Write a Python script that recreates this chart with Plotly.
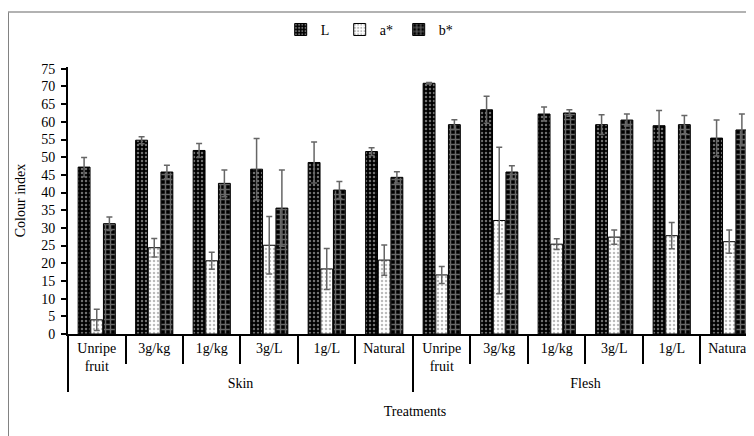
import plotly.graph_objects as go

parts = ["Skin"] * 6 + ["Flesh"] * 6
treatments = ["Unripe<br>fruit", "3g/kg", "1g/kg", "3g/L", "1g/L", "Natural"] * 2

L_vals = [47.2, 54.8, 51.9, 46.6, 48.5, 51.6, 70.9, 63.4, 62.2, 59.2, 58.9, 55.4]
L_err = [2.7, 1.0, 2.0, 8.7, 5.8, 1.1, 0.2, 3.8, 2.0, 2.8, 4.3, 5.1]
a_vals = [4.0, 24.4, 20.7, 25.1, 18.4, 20.9, 16.7, 32.1, 25.4, 27.4, 27.8, 26.1]
a_err = [3.0, 2.6, 2.4, 8.1, 5.8, 4.3, 2.4, 20.7, 1.5, 2.0, 3.7, 3.3]
b_vals = [31.2, 45.8, 42.6, 35.6, 40.7, 44.3, 59.2, 45.8, 62.5, 60.5, 59.2, 57.7]
b_err = [1.9, 1.9, 3.8, 10.8, 2.4, 1.6, 1.4, 1.8, 0.9, 1.7, 2.6, 4.5]

FONT = "Liberation Serif"
x = [parts, treatments]

def err(v):
    return dict(type="data", array=v, visible=True, color="#666666", thickness=1.5, width=3)

fig = go.Figure()
fig.add_trace(go.Bar(
    name="L", x=x, y=L_vals, error_y=err(L_err),
    marker=dict(color="black", line=dict(color="black", width=1),
                pattern=dict(shape=".", bgcolor="black", fgcolor="#dddddd", size=4, solidity=0.3)),
))
fig.add_trace(go.Bar(
    name="a*", x=x, y=a_vals, error_y=err(a_err),
    marker=dict(color="white", line=dict(color="black", width=1),
                pattern=dict(shape=".", bgcolor="white", fgcolor="#777777", size=4, solidity=0.3)),
))
fig.add_trace(go.Bar(
    name="b*", x=x, y=b_vals, error_y=err(b_err),
    marker=dict(color="black", line=dict(color="black", width=1),
                pattern=dict(shape="+", bgcolor="black", fgcolor="#d0d0d0", size=5, solidity=0.5)),
))

fig.update_layout(
    width=754, height=436,
    margin=dict(l=60, r=0, t=59, b=110, autoexpand=False),
    paper_bgcolor="white", plot_bgcolor="white",
    font=dict(family=FONT, size=14, color="black"),
    barmode="group", bargap=0.34, bargroupgap=0.06,
    showlegend=True,
    legend=dict(orientation="h", x=0.434, xanchor="center", y=1.139, yanchor="middle",
                font=dict(family=FONT, size=14), itemwidth=30,
                entrywidth=14, entrywidthmode="pixels", tracegroupgap=0),
    shapes=[
        dict(type="line", xref="paper", yref="paper", x0=-0.0865, x1=-0.0865, y0=1.206, y1=-0.45,
             line=dict(color="#222222", width=1.2)),
        dict(type="line", xref="paper", yref="paper", x0=-0.0865, x1=1.0, y0=1.206, y1=1.206,
             line=dict(color="#999999", width=1.5)),
    ],
)
fig.update_xaxes(
    type="multicategory", range=[-0.5, 11.57], automargin=False,
    showline=True, linecolor="black", linewidth=2,
    ticks="outside", tickson="boundaries", ticklen=28, tickcolor="black", tickwidth=2,
    showdividers=True, dividercolor="black", dividerwidth=2,
    tickfont=dict(family=FONT, size=14),
    title=dict(text="Treatments", font=dict(family=FONT, size=14), standoff=16),
    showgrid=False,
)
fig.update_yaxes(
    range=[0, 75.5], tickmode="linear", tick0=0, dtick=5, automargin=False,
    showline=True, linecolor="black", linewidth=2,
    ticks="outside", ticklen=5, tickcolor="black", tickwidth=1.5,
    ticklabelstandoff=3,
    tickfont=dict(family=FONT, size=14),
    title=dict(text="Colour index", font=dict(family=FONT, size=14), standoff=12),
    showgrid=False, zeroline=False,
)

fig.write_html("out.html")
